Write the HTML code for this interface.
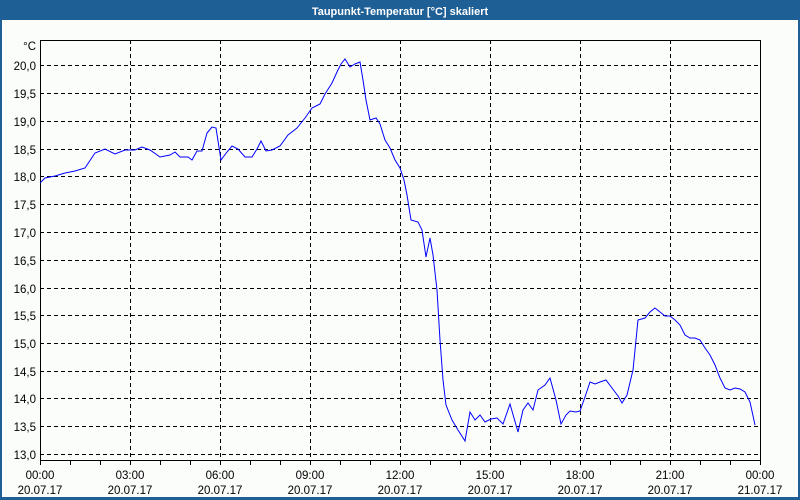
<!DOCTYPE html>
<html><head><meta charset="utf-8"><style>
body{margin:0;background:#fff}
svg{display:block}
text{font-family:"Liberation Sans",sans-serif;font-size:11.5px;fill:#000}
</style></head><body>
<svg width="800" height="500" xmlns="http://www.w3.org/2000/svg">
<rect x="0" y="0" width="800" height="500" fill="#1e5f96"/>
<rect x="2" y="20" width="796" height="477" fill="#fbfdfb"/>
<text x="400" y="15" text-anchor="middle" style="fill:#fff;font-weight:bold;font-size:11px">Taupunkt-Temperatur [°C] skaliert</text>
<g stroke="#000" stroke-width="1" stroke-dasharray="4,3" fill="none">
<path d="M130.5 40V460M220.5 40V460M310.5 40V460M400.5 40V460M490.5 40V460M580.5 40V460M670.5 40V460"/>
<path d="M40 65.5H760M40 93.5H760M40 121.5H760M40 149.5H760M40 176.5H760M40 204.5H760M40 232.5H760M40 260.5H760M40 288.5H760M40 315.5H760M40 343.5H760M40 371.5H760M40 398.5H760M40 426.5H760M40 454.5H760"/>
</g>
<rect x="40.5" y="40.5" width="720" height="420" fill="none" stroke="#000"/>
<g stroke="#000"><path d="M70.5 461v4M100.5 461v4M160.5 461v4M190.5 461v4M250.5 461v4M280.5 461v4M340.5 461v4M370.5 461v4M430.5 461v4M460.5 461v4M520.5 461v4M550.5 461v4M610.5 461v4M640.5 461v4M700.5 461v4M730.5 461v4M40.5 461v4M130.5 461v4M220.5 461v4M310.5 461v4M400.5 461v4M490.5 461v4M580.5 461v4M670.5 461v4M760.5 461v4"/></g>
<g text-anchor="end">
<text x="36" y="50">°C</text>
<text x="36" y="70">20,0</text><text x="36" y="98">19,5</text><text x="36" y="126">19,0</text><text x="36" y="154">18,5</text><text x="36" y="181">18,0</text><text x="36" y="209">17,5</text><text x="36" y="237">17,0</text><text x="36" y="265">16,5</text><text x="36" y="293">16,0</text><text x="36" y="320">15,5</text><text x="36" y="348">15,0</text><text x="36" y="376">14,5</text><text x="36" y="403">14,0</text><text x="36" y="431">13,5</text><text x="36" y="459">13,0</text>
</g>
<g text-anchor="middle">
<text x="40" y="479">00:00</text><text x="40" y="494">20.07.17</text>
<text x="130" y="479">03:00</text><text x="130" y="494">20.07.17</text>
<text x="220" y="479">06:00</text><text x="220" y="494">20.07.17</text>
<text x="310" y="479">09:00</text><text x="310" y="494">20.07.17</text>
<text x="400" y="479">12:00</text><text x="400" y="494">20.07.17</text>
<text x="490" y="479">15:00</text><text x="490" y="494">20.07.17</text>
<text x="580" y="479">18:00</text><text x="580" y="494">20.07.17</text>
<text x="670" y="479">21:00</text><text x="670" y="494">20.07.17</text>
<text x="760" y="479">00:00</text><text x="760" y="494">21.07.17</text>
</g>
<polyline fill="none" stroke="#0000ff" stroke-width="1" points="40,183 45,178 55,176 65,173 75,171 85,168 95,153 105,149 115,154 125,150 135,150 142,147 150,150 160,157 170,155 175,152 180,157 188,157 192,160 197,151 202,151 207,133 212,127 216,128 221,160 227,152 232,146 238,149 245,157 252,157 257,149 261,141 266,151 272,150 280,146 288,135 297,128 305,118 312,108 320,104 325,94 332,83 337,72 341,64 345,59 350,67 355,64 360,62 363,80 366,100 370,120 376,118 380,124 385,140 390,148 395,160 400,168 404,180 407,195 411,220 418,222 422,230 426,257 430,238 433,255 437,290 440,340 443,380 446,405 452,420 458,430 465,441 470,412 475,420 480,415 485,422 491,419 497,418 503,424 510,404 514,418 518,432 523,410 528,403 533,410 538,390 545,385 550,378 556,400 561,424 566,415 570,411 576,412 580,411 585,397 590,382 595,384 600,382 606,380 612,388 618,396 622,403 627,395 633,370 638,320 645,318 650,312 655,308 660,312 665,316 670,316 675,320 680,325 685,335 690,338 695,338 700,340 705,348 710,355 715,365 720,378 725,388 730,390 735,388 740,389 745,392 750,402 755,425"/>
</svg>
</body></html>
